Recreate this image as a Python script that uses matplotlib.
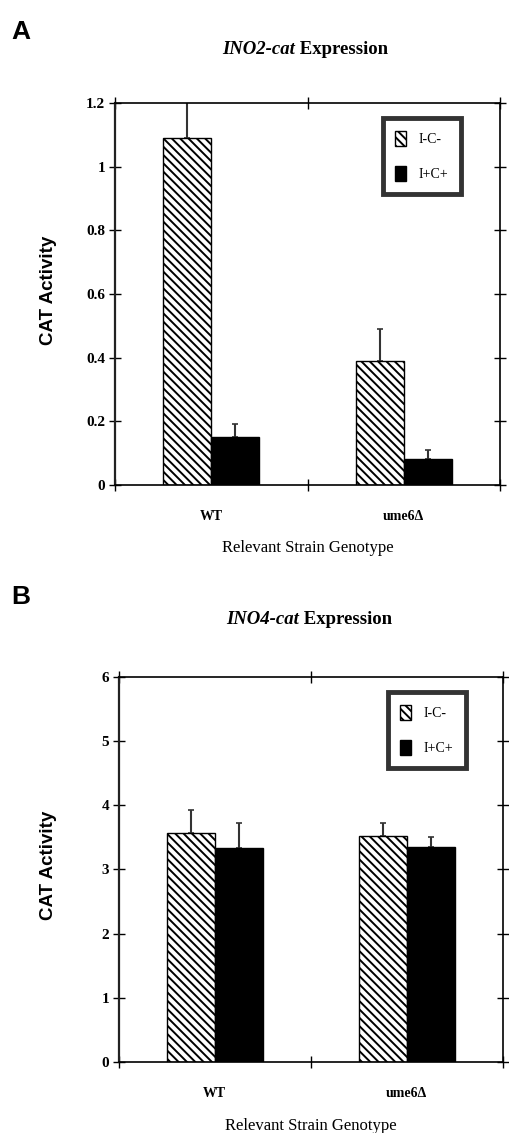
import matplotlib
matplotlib.use("Agg")
import matplotlib.pyplot as plt
import numpy as np

genotypes = ["WT", "ume6Δ"]
series_labels = ["I-C-", "I+C+"]

ino2_means = {"I-C-": [1.09, 0.39], "I+C+": [0.15, 0.08]}
ino2_errs = {"I-C-": [0.12, 0.10], "I+C+": [0.04, 0.03]}

ino4_means = {"I-C-": [3.57, 3.52], "I+C+": [3.33, 3.35]}
ino4_errs = {"I-C-": [0.36, 0.20], "I+C+": [0.39, 0.15]}

ino2_yticks = [0, 0.2, 0.4, 0.6, 0.8, 1, 1.2]
ino2_yticklabels = ["0", "0.2", "0.4", "0.6", "0.8", "1", "1.2"]
ino4_yticks = [0, 1, 2, 3, 4, 5, 6]

plt.rcParams['hatch.linewidth'] = 1.4
serif = ['Liberation Serif', 'DejaVu Serif']
sans = ['Liberation Sans', 'DejaVu Sans']

fig = plt.figure(figsize=(5.10, 11.33), dpi=100)

def draw(ax, means, errs, ylim, yticks, yticklabels, title_gene, split_x, title_y,
         ylab_x, legend_bbox):
    x = np.array([0.5, 1.5])
    w = 0.25
    styles = {"I-C-": dict(facecolor="white", edgecolor="black", hatch="\\\\\\\\"),
              "I+C+": dict(facecolor="black", edgecolor="black")}
    offs = {"I-C-": -w / 2, "I+C+": w / 2}
    handles = []
    for s in series_labels:
        b = ax.bar(x + offs[s], means[s], width=w, linewidth=1.0, label=s,
                   zorder=2, **styles[s])
        ax.errorbar(x + offs[s], means[s], yerr=[np.zeros(2), errs[s]],
                    fmt='none', ecolor="#333333", elinewidth=1.5, capsize=2.5,
                    capthick=1.2, zorder=1)
        handles.append(b)
    ax.set_xlim(0, 2)
    ax.set_ylim(*ylim)
    ax.set_yticks(yticks)
    ax.set_yticklabels(yticklabels, family=serif, fontweight='bold', fontsize=11)
    ax.set_xticks([0, 1, 2])
    ax.set_xticklabels([])
    for i, g in enumerate(genotypes):
        ax.text(x[i], -0.065, g, transform=ax.get_xaxis_transform(),
                ha='center', va='top', family=serif, fontweight='bold', fontsize=10)
    ax.text(0.5, -0.145, "Relevant Strain Genotype", transform=ax.transAxes,
            ha='center', va='top', family=serif, fontsize=12)
    ax.set_ylabel("CAT Activity", family=sans, fontweight='bold', fontsize=13.5)
    ax.yaxis.set_label_coords(ylab_x, 0.51)
    ax.tick_params(axis='both', which='both', direction='inout', length=8, width=1.0,
                   top=True, right=True, pad=3)
    for sp in ax.spines.values():
        sp.set_linewidth(1.2)
    ax.spines['left'].set_linewidth(1.6)
    ax.spines['left'].set_color('#222222')
    ax.text(split_x, title_y, title_gene, transform=ax.transAxes, ha='right', va='center',
            family=serif, fontweight='bold', fontstyle='italic', fontsize=13.5)
    ax.text(split_x, title_y, " Expression", transform=ax.transAxes, ha='left', va='center',
            family=serif, fontweight='bold', fontsize=13.5)
    leg = ax.legend(handles=handles, labels=series_labels, loc='upper left',
                    bbox_to_anchor=legend_bbox, frameon=True, fancybox=False,
                    prop={'family': serif, 'size': 10}, handlelength=0.8,
                    handleheight=1.3, handletextpad=0.9, labelspacing=1.45,
                    borderpad=0.9, borderaxespad=0)
    leg.get_frame().set_linewidth(3.5)
    leg.get_frame().set_edgecolor('black')

axA = fig.add_axes([0.2255, 0.572, 0.755, 0.337])
draw(axA, ino2_means, ino2_errs, (0, 1.2), ino2_yticks, ino2_yticklabels,
     "INO2-cat", 0.468, 1.141, -0.15, (0.695, 0.96))
axB = fig.add_axes([0.233, 0.0627, 0.753, 0.340])
draw(axB, ino4_means, ino4_errs, (0, 6), ino4_yticks, [str(t) for t in ino4_yticks],
     "INO4-cat", 0.470, 1.148, -0.16, (0.70, 0.96))

fig.text(0.022, 0.972, "A", family=sans, fontweight='bold', fontsize=19, ha='left', va='center')
fig.text(0.022, 0.473, "B", family=sans, fontweight='bold', fontsize=19, ha='left', va='center')

fig.savefig("out.png", dpi=100)
